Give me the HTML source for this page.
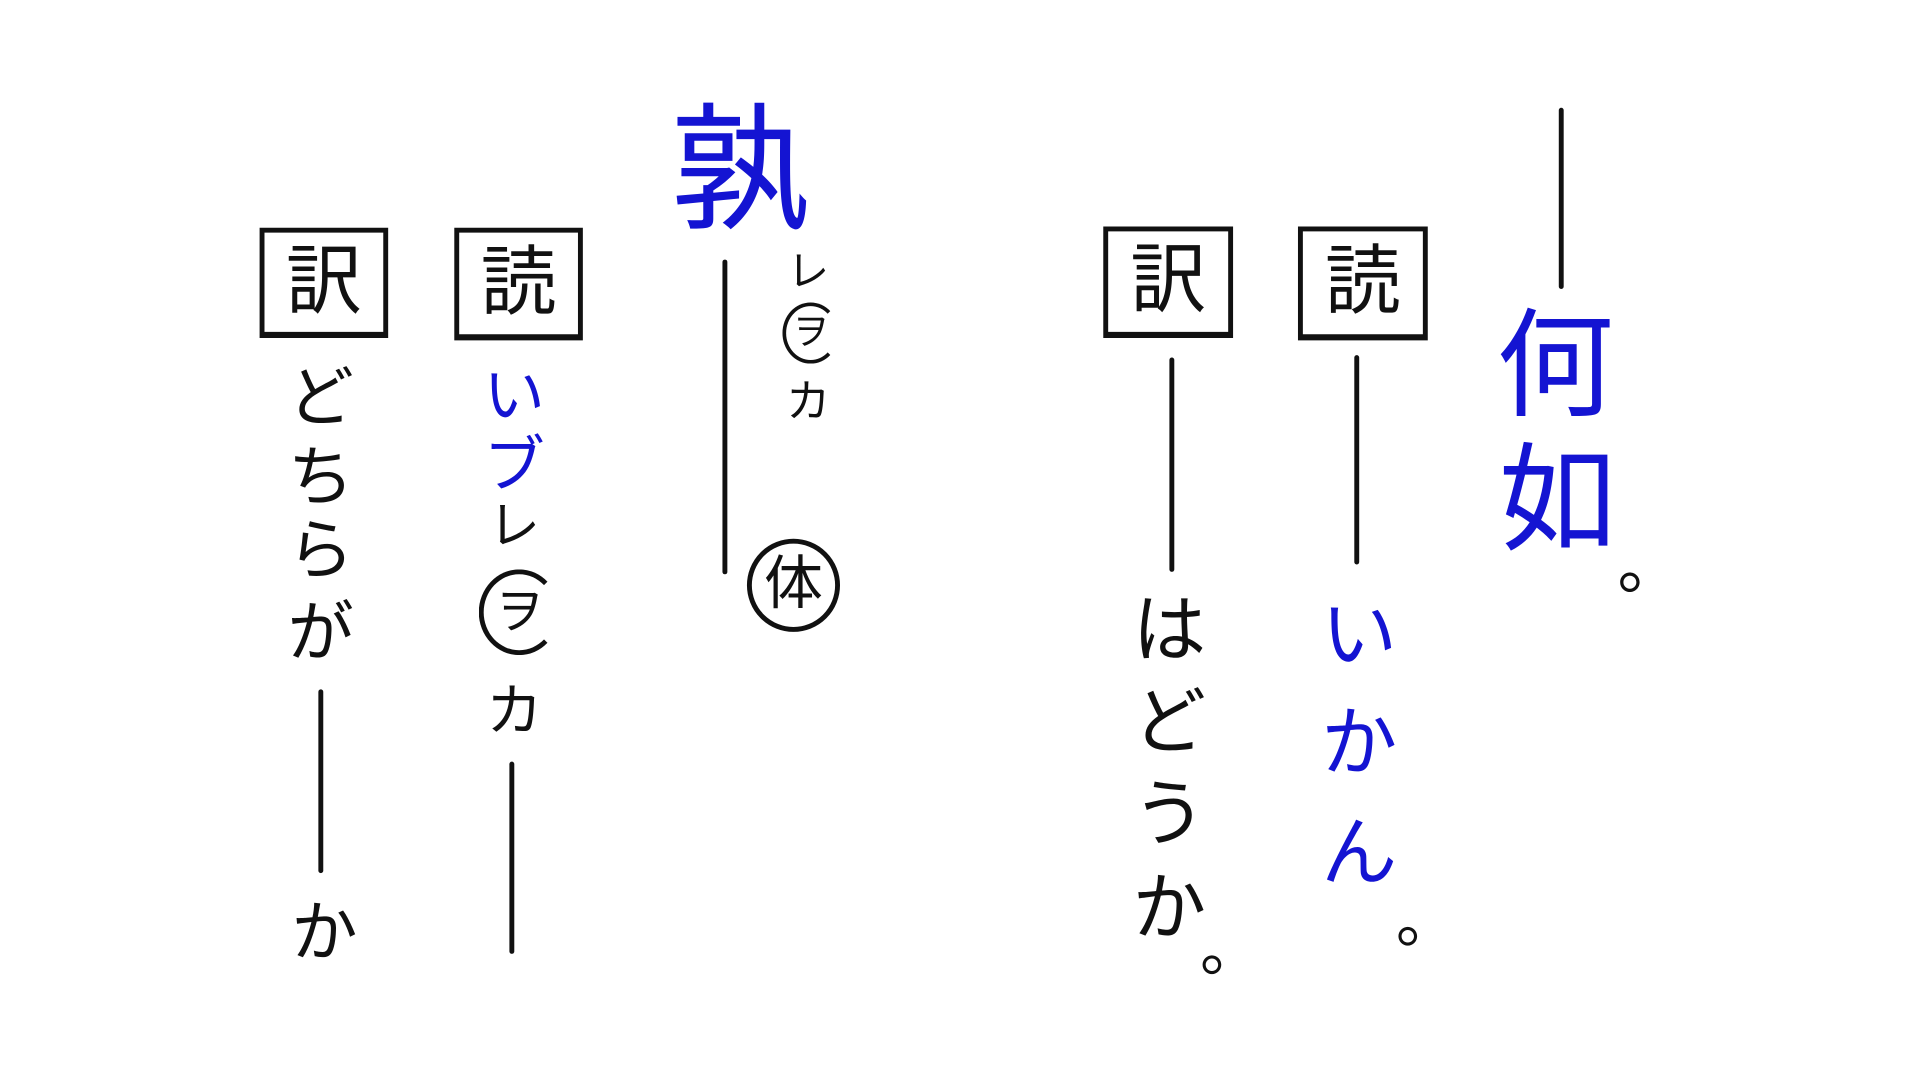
<!DOCTYPE html>
<html><head><meta charset="utf-8"><style>
html,body{margin:0;padding:0;background:#fff;width:1920px;height:1080px;overflow:hidden}
#s{position:absolute;left:0;top:0;width:1568px;height:882px;transform:scale(1.2245,1.2245);transform-origin:0 0;font-family:"Liberation Sans","Noto Sans CJK JP",sans-serif;color:#111}
.c{position:absolute;width:140px;text-align:center;line-height:1;transform:translate(-50%,-50%)}
.b{color:#1414d2}
.l{position:absolute;width:4px;background:#111;border-radius:2px}
.box{position:absolute;border:4px solid #111;box-sizing:border-box;border-bottom-width:5px}
.box span{position:absolute;left:0;right:0;top:50%;transform:translateY(-50%);text-align:center;font-size:62px;line-height:1}
.circ{position:absolute;border:3px solid #111;border-radius:50%;box-sizing:border-box;transform:translate(-50%,-50%)}
</style></head><body><div id="s">
<div class="box" style="left:212px;top:186px;width:105px;height:90px"><span>訳</span></div>
<div class="box" style="left:371px;top:186px;width:105px;height:92px"><span>読</span></div>
<div class="box" style="left:901px;top:185px;width:106px;height:91px"><span>訳</span></div>
<div class="box" style="left:1060px;top:185px;width:106px;height:93px"><span>読</span></div>

<div class="c" style="left:262px;top:325px;font-size:54px">ど</div>
<div class="c" style="left:262px;top:390px;font-size:54px">ち</div>
<div class="c" style="left:262px;top:450px;font-size:54px">ら</div>
<div class="c" style="left:262px;top:517px;font-size:54px">が</div>
<div class="l" style="left:260px;top:563px;height:150px"></div>
<div class="c" style="left:265px;top:762px;font-size:54px">か</div>

<div class="c b" style="left:420px;top:323px;font-size:50px">い</div>
<div class="c b" style="left:420px;top:380px;font-size:50px">ブ</div>
<div class="c" style="left:420px;top:430px;font-size:42px">レ</div>
<div class="circ" style="left:424px;top:500px;width:66px;height:70px;border-right-color:transparent;border-width:4px"></div>
<div class="c" style="left:424px;top:500px;font-size:40px">ヲ</div>
<div class="c" style="left:420px;top:580px;font-size:46px">カ</div>
<div class="l" style="left:416px;top:622px;height:157px"></div>

<div class="c b" style="left:604px;top:140px;font-size:112px">孰</div>
<div class="l" style="left:590px;top:212px;height:257px"></div>
<div class="c" style="left:660px;top:222px;font-size:34px">レ</div>
<div class="circ" style="left:662px;top:272px;width:46px;height:50px;border-right-color:transparent"></div>
<div class="c" style="left:662px;top:272px;font-size:30px">ヲ</div>
<div class="c" style="left:660px;top:328px;font-size:36px">カ</div>
<div class="circ" style="left:648px;top:478px;width:76px;height:76px;border-width:4px"></div>
<div class="c" style="left:648px;top:478px;font-size:48px">体</div>

<div class="l" style="left:955px;top:292px;height:175px"></div>
<div class="c" style="left:955px;top:515px;font-size:60px">は</div>
<div class="c" style="left:955px;top:590px;font-size:60px">ど</div>
<div class="c" style="left:955px;top:665px;font-size:60px">う</div>
<div class="c" style="left:955px;top:742px;font-size:60px">か</div>
<div class="c" style="left:1005px;top:775px;font-size:50px">。</div>

<div class="l" style="left:1106px;top:290px;height:171px"></div>
<div class="c b" style="left:1110px;top:520px;font-size:62px">い</div>
<div class="c b" style="left:1110px;top:608px;font-size:62px">か</div>
<div class="c b" style="left:1110px;top:698px;font-size:62px">ん</div>
<div class="c" style="left:1165px;top:752px;font-size:50px">。</div>

<div class="l" style="left:1273px;top:88px;height:148px"></div>
<div class="c b" style="left:1270px;top:300px;font-size:96px">何</div>
<div class="c b" style="left:1272px;top:410px;font-size:96px">如</div>
<div class="c" style="left:1347px;top:463px;font-size:52px">。</div>
</div></body></html>
